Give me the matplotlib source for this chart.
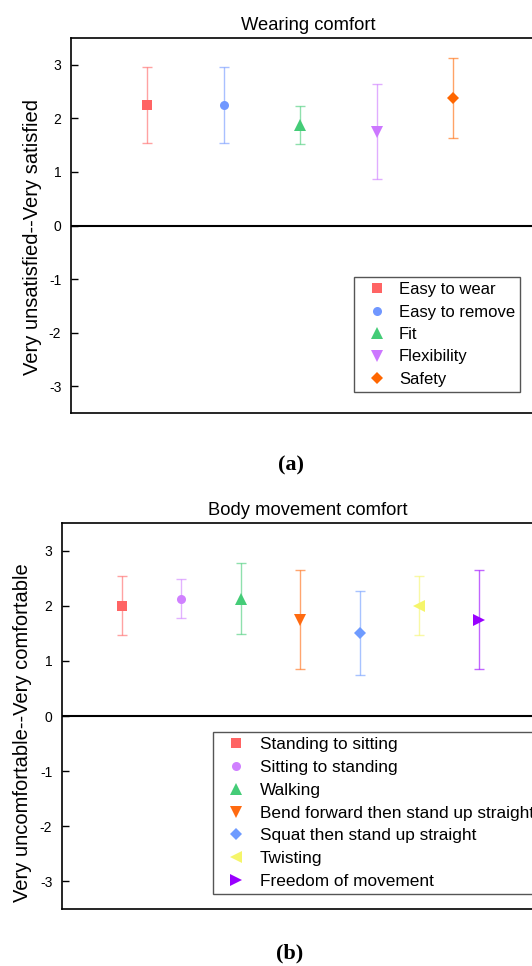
import matplotlib.pyplot as plt
import numpy as np

plt.rcParams['font.family'] = ['Liberation Sans', 'DejaVu Sans']
plt.rcParams['axes.unicode_minus'] = False

# Wearing comfort (a)
wear_items = ['Easy to wear', 'Easy to remove', 'Fit', 'Flexibility', 'Safety']
wear_mean = [2.25, 2.25, 1.88, 1.75, 2.38]
wear_err = [0.71, 0.71, 0.35, 0.89, 0.74]
wear_colors = ['#FF6464', '#7097FF', '#44CC77', '#CC77FF', '#FF6600']
wear_markers = ['s', 'o', '^', 'v', 'D']

# Body movement comfort (b)
move_items = ['Standing to sitting', 'Sitting to standing', 'Walking',
              'Bend forward then stand up straight', 'Squat then stand up straight',
              'Twisting', 'Freedom of movement']
move_mean = [2.0, 2.13, 2.13, 1.75, 1.5, 2.0, 1.75]
move_err = [0.53, 0.35, 0.64, 0.89, 0.76, 0.53, 0.89]
move_colors = ['#FF6464', '#D080FF', '#44CC77', '#FF6A10', '#6E9BFF', '#F5F56A', '#9900FF']
move_markers = ['s', 'o', '^', 'v', 'D', '<', '>']

W, H = 532, 966
fig = plt.figure(figsize=(W / 100, H / 100), dpi=100)

ax1 = fig.add_axes([71 / W, 1 - 413 / H, (545 - 71) / W, (413 - 38) / H])
ax2 = fig.add_axes([62 / W, 1 - 909 / H, (553 - 62) / W, (909 - 523) / H])


def draw_panel(ax, items, means, errs, colors, markers, xmax, title):
    for i, (name, m, e, c, mk) in enumerate(zip(items, means, errs, colors, markers)):
        ms = 6.5 if mk in ('s', 'o', 'D') else 8.5
        ax.errorbar(i + 1, m, yerr=e, fmt='none', ecolor=c, alpha=0.6,
                    elinewidth=1, capsize=3.5, capthick=1)
        ax.plot(i + 1, m, linestyle='none', marker=mk, color=c, markersize=ms,
                markeredgewidth=0, label=name)
    ax.axhline(0, color='black', lw=1.5, zorder=1)
    ax.set_xlim(0, xmax)
    ax.set_ylim(-3.5, 3.5)
    ax.set_yticks([-3, -2, -1, 0, 1, 2, 3])
    ax.set_xticks([])
    ax.tick_params(axis='y', direction='in', length=5, width=1, pad=7, labelsize=10)
    for s in ax.spines.values():
        s.set_linewidth(1.2)
    ax.set_title(title, fontsize=13.2, pad=6)


draw_panel(ax1, wear_items, wear_mean, wear_err, wear_colors, wear_markers, 6.2,
           'Wearing comfort')
draw_panel(ax2, move_items, move_mean, move_err, move_colors, move_markers, 8.25,
           'Body movement comfort')

leg_style = dict(frameon=True, fancybox=False, edgecolor='#555555', framealpha=1,
                 handlelength=2.1, handletextpad=0.3, borderpad=0.3,
                 borderaxespad=0, bbox_transform=fig.transFigure, loc='upper left')
ax1.legend(bbox_to_anchor=(354 / W, 1 - 277 / H), fontsize=12,
           labelspacing=0.45, **leg_style)
ax2.legend(bbox_to_anchor=(213 / W, 1 - 732 / H), fontsize=12.4,
           labelspacing=0.45, **leg_style)

fig.text(33 / W, 1 - 237 / H, 'Very unsatisfied--Very satisfied', rotation=90,
         ha='center', va='center', fontsize=14.5)
fig.text(23 / W, 1 - 733 / H, 'Very uncomfortable--Very comfortable', rotation=90,
         ha='center', va='center', fontsize=14.5)

fig.text(291 / W, 1 - 465 / H, '(a)', ha='center', va='center', fontsize=16,
         fontweight='bold', family='Liberation Serif')
fig.text(290 / W, 1 - 953 / H, '(b)', ha='center', va='center', fontsize=16,
         fontweight='bold', family='Liberation Serif')

fig.savefig('out.png', dpi=100)
